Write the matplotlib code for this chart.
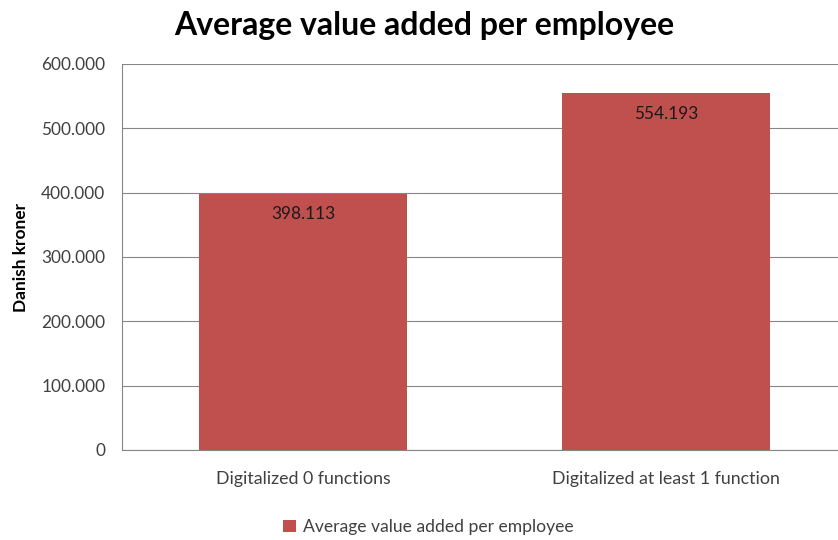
import matplotlib
matplotlib.use("Agg")
import matplotlib.pyplot as plt
from matplotlib.ticker import FuncFormatter, MultipleLocator

# chart data
categories = ["Digitalized 0 functions", "Digitalized at least 1 function"]
values = [398113, 554193]
series_name = "Average value added per employee"

bar_color = "#C0504D"
grid_color = "#868686"
text_color = "#404040"

plt.rcParams["font.family"] = ["Lato", "DejaVu Sans"]

fig = plt.figure(figsize=(8.38, 5.40), dpi=100)
ax = fig.add_axes([0.1456, 0.1667, 0.8652, 0.7148])

x = list(range(len(categories)))
bars = ax.bar(x, values, width=0.573, color=bar_color, label=series_name, zorder=2)

ax.set_xlim(-0.5, len(categories) - 0.5)
ax.set_ylim(0, 600000)
ax.yaxis.set_major_locator(MultipleLocator(100000))
ax.yaxis.set_major_formatter(FuncFormatter(lambda v, _: f"{v:,.0f}".replace(",", ".")))

ax.set_xticks(x)
ax.set_xticklabels(categories)
ax.tick_params(axis="x", length=0, pad=15, labelsize=12.8, labelcolor=text_color)
ax.tick_params(axis="y", length=0, pad=12, labelsize=12.4, labelcolor=text_color)

ax.grid(axis="y", color=grid_color, linewidth=0.8, zorder=0)
ax.set_axisbelow(True)
for side in ("top", "right"):
    ax.spines[side].set_visible(False)
for side in ("left", "bottom"):
    ax.spines[side].set_color(grid_color)
    ax.spines[side].set_linewidth(0.8)

# value labels just inside the top of each bar
for rect, v in zip(bars, values):
    ax.annotate(f"{v:,.0f}".replace(",", "."),
                xy=(rect.get_x() + rect.get_width() / 2, v),
                xytext=(0, -14.5), textcoords="offset points",
                ha="center", va="center", fontsize=12.4, color="#1a1a1a")

ax.set_ylabel("Danish kroner", fontsize=12.5, fontweight="bold", color="black", labelpad=9)

fig.suptitle("Average value added per employee", x=0.506, y=0.98,
             fontsize=23, fontweight="bold", color="black")

fig.legend(handles=[bars], labels=[series_name], loc="center",
           bbox_to_anchor=(0.511, 0.024), frameon=False, fontsize=12.6,
           handlelength=0.7, handleheight=0.7, handletextpad=0.4,
           labelcolor=text_color)

fig.savefig("out.png", dpi=100)
